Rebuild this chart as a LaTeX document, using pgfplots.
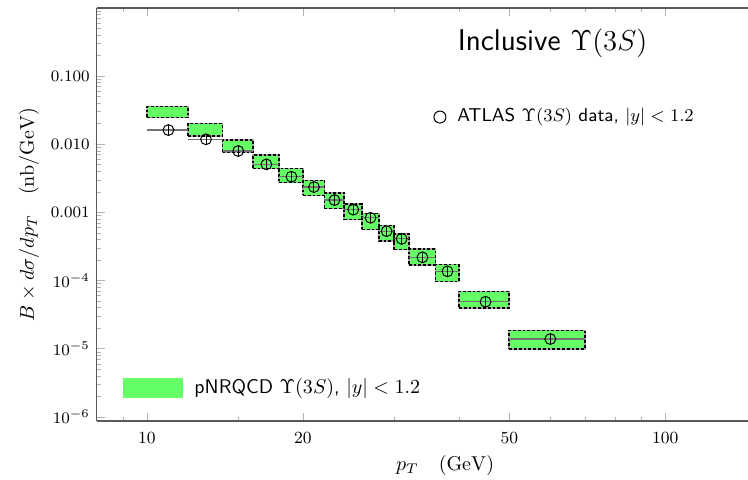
\documentclass[border=0pt]{standalone}
\usepackage{pgfplots}
\usepackage{pgfplotstable}
\pgfplotsset{compat=1.18}

\definecolor{bandgreen}{RGB}{100,255,100}
\definecolor{axisgray}{RGB}{90,90,90}

% theory bands: one closed rectangle per pT bin
\pgfplotstableread{
x y
10 0.0247
12 0.0247
12 0.0358
10 0.0358
10 0.0247
nan nan
12 0.0132
14 0.0132
14 0.0201
12 0.0201
12 0.0132
nan nan
14 0.00755
16 0.00755
16 0.0116
14 0.0116
14 0.00755
nan nan
16 0.00444
18 0.00444
18 0.00697
16 0.00697
16 0.00444
nan nan
18 0.00274
20 0.00274
20 0.00444
18 0.00444
18 0.00274
nan nan
20 0.00178
22 0.00178
22 0.00296
20 0.00296
20 0.00178
nan nan
22 0.001146
24 0.001146
24 0.00195
22 0.00195
22 0.001146
nan nan
24 0.000789
26 0.000789
26 0.00134
24 0.00134
24 0.000789
nan nan
26 0.000562
28 0.000562
28 0.000966
26 0.000966
26 0.000562
nan nan
28 0.000379
30 0.000379
30 0.000646
28 0.000646
28 0.000379
nan nan
30 0.000286
32 0.000286
32 0.000486
30 0.000486
30 0.000286
nan nan
32 0.000168
36 0.000168
36 0.000292
32 0.000292
32 0.000168
nan nan
36 9.77e-5
40 9.77e-5
40 0.000172
36 0.000172
36 9.77e-5
nan nan
40 3.97e-5
50 3.97e-5
50 6.97e-5
40 6.97e-5
40 3.97e-5
nan nan
50 1.0e-5
70 1.0e-5
70 1.86e-5
50 1.86e-5
50 1.0e-5
}\bands

% ATLAS data: bin centre, value, bin half widths, relative y error
\pgfplotstableread{
x y exm exp ey
11 0.0162 1 1 0.17
13 0.01186 1 1 0.17
15 0.00798 1 1 0.17
17 0.00508 1 1 0.17
19 0.00335 1 1 0.17
21 0.00236 1 1 0.17
23 0.00152 1 1 0.17
25 0.0011 1 1 0.17
27 0.000836 1 1 0.17
29 0.000531 1 1 0.17
31 0.00041 1 1 0.17
34 0.00022 2 2 0.17
38 0.000137 2 2 0.17
45 4.9e-5 5 5 0.17
60 1.39e-5 10 10 0.17
}\atlas

\begin{document}
\begin{tikzpicture}
\useasboundingbox (-48.35pt,-29pt) rectangle (325.6pt,210.5pt);
\begin{axis}[
    scale only axis,
    width=325.6pt, height=206.5pt,
    xmode=log, ymode=log,
    xmin=8, xmax=144.4,
    ymin=8.7e-7, ymax=1.0,
    axis x line*=box, axis y line*=left,
    axis line style={axisgray, line width=0.6pt},
    tick align=inside,
    tick style={gray!60, line width=0.4pt},
    major tick length=4pt, minor tick length=2pt,
    xtick={10,20,50,100}, xticklabels={10,20,50,100},
    minor xtick={9,15,30,40,60,70,80,90},
    ytick={1e-6,1e-5,1e-4,1e-3,1e-2,1e-1},
    yticklabels={$10^{-6}$,$10^{-5}$,$10^{-4}$,$0.001$,$0.010$,$0.100$},
    minor ytick={2e-6,3e-6,4e-6,5e-6,6e-6,7e-6,8e-6,9e-6,
                 2e-5,3e-5,4e-5,5e-5,6e-5,7e-5,8e-5,9e-5,
                 2e-4,3e-4,4e-4,5e-4,6e-4,7e-4,8e-4,9e-4,
                 2e-3,3e-3,4e-3,5e-3,6e-3,7e-3,8e-3,9e-3,
                 2e-2,3e-2,4e-2,5e-2,6e-2,7e-2,8e-2,9e-2,
                 2e-1,3e-1,4e-1,5e-1,6e-1,7e-1,8e-1,9e-1},
    ticklabel style={font=\fontsize{8.5}{10}\selectfont},
    xticklabel style={yshift=-2pt},
    xlabel={$p_T\quad(\mathrm{GeV})$},
    ylabel={$B\times d\sigma/dp_T\quad(\mathrm{nb/GeV})$},
    xlabel style={at={(axis description cs:0.535,-0.1065)}, anchor=center},
    ylabel style={at={(axis description cs:-0.104,0.5)}, anchor=center},
    unbounded coords=jump,
    clip=false,
]
\addplot[fill=bandgreen, draw=gray!70, line width=0.8pt] table[x=x, y=y] {\bands};
\addplot[draw=black, line width=0.8pt, dash pattern=on 1.4pt off 1pt] table[x=x, y=y] {\bands};

% horizontal bars: bin widths
\addplot[draw=none, mark=none,
    error bars/.cd, x dir=both, x explicit, error mark=none,
    error bar style={draw=black!55, line width=0.6pt}]
    table[x=x, y=y, x error minus=exm, x error plus=exp] {\atlas};

% vertical bars: data uncertainty
\addplot[draw=none, mark=none,
    error bars/.cd, y dir=both, y explicit relative, error mark=none,
    error bar style={draw=black, line width=0.5pt}]
    table[x=x, y=y, y error=ey] {\atlas};

\addplot[only marks, mark=o, mark size=2.7pt,
    mark options={draw=black, fill=none, line width=0.5pt}]
    table[x=x, y=y] {\atlas};

\node[font=\sffamily\fontsize{15}{18}\selectfont, anchor=center]
    at (axis description cs:0.700,0.915) {Inclusive $\Upsilon(3S)$};

\draw[black, line width=0.5pt] (axis description cs:0.527,0.736) circle[radius=3pt];
\node[font=\sffamily\fontsize{9.3}{11}\selectfont, anchor=west, inner sep=0pt]
    at (axis description cs:0.553,0.736) {ATLAS $\Upsilon(3S)$ data, $|y|<1.2$};

\fill[bandgreen] (axis description cs:0.0404,0.055) rectangle (axis description cs:0.1325,0.1048);
\node[font=\sffamily\fontsize{9.9}{12}\selectfont, anchor=west, inner sep=0pt]
    at (axis description cs:0.1495,0.080) {pNRQCD $\Upsilon(3S)$, $|y|<1.2$};
\end{axis}
\end{tikzpicture}
\end{document}
